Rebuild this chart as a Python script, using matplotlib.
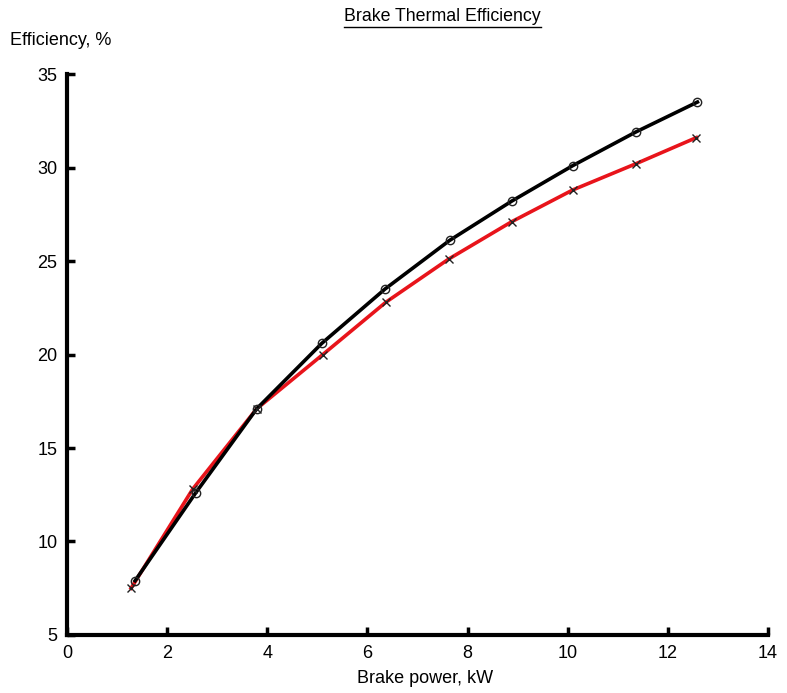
import matplotlib
matplotlib.use("Agg")
import matplotlib.pyplot as plt
from matplotlib.lines import Line2D

plt.rcParams["font.family"] = ["Liberation Sans", "DejaVu Sans"]

# brake power, kW
power_o = [1.36, 2.57, 3.79, 5.09, 6.35, 7.64, 8.88, 10.1, 11.36, 12.59]
power_x = [1.28, 2.51, 3.79, 5.11, 6.37, 7.62, 8.88, 10.1, 11.36, 12.57]
# brake thermal efficiency, %
eff_o = [7.9, 12.6, 17.1, 20.6, 23.5, 26.1, 28.2, 30.1, 31.9, 33.5]
eff_x = [7.5, 12.8, 17.1, 20.0, 22.8, 25.1, 27.1, 28.8, 30.2, 31.6]

fig = plt.figure(figsize=(7.87, 6.93), dpi=100)
ax = fig.add_axes([0.0851, 0.0837, 0.8908, 0.8095])

ax.plot(power_x, eff_x, color="#e8141b", lw=2.6, zorder=2)
ax.plot(power_x, eff_x, ls="none", marker="x", ms=6, mew=1.0, color="#222222", zorder=4)
ax.plot(power_o, eff_o, color="black", lw=2.6, zorder=3)
ax.plot(power_o, eff_o, ls="none", marker="o", ms=6, mew=1.0, mfc="none", mec="#222222", zorder=4)

ax.set_xlim(0, 14)
ax.set_ylim(5, 35)
ax.set_xticks(range(0, 15, 2))
ax.set_yticks(range(5, 36, 5))

for s in ["top", "right"]:
    ax.spines[s].set_visible(False)
for s in ["left", "bottom"]:
    ax.spines[s].set_linewidth(3)
ax.tick_params(direction="in", length=6, width=2.5, labelsize=13, pad=7)
ax.tick_params(axis="y", pad=7)

fig.text(0.5395, 0.009, "Brake power, kW", ha="center", va="bottom", fontsize=13)
fig.text(0.013, 0.942, "Efficiency, %", ha="left", va="center", fontsize=13)
title = fig.text(0.5625, 0.976, "Brake Thermal Efficiency", ha="center", va="center", fontsize=12.8)

# underline the title
fig.canvas.draw()
bb = title.get_window_extent().transformed(fig.transFigure.inverted())
fig.add_artist(Line2D([bb.x0, bb.x1], [bb.y0 - 0.002, bb.y0 - 0.002],
                      transform=fig.transFigure, color="black", lw=1))

fig.savefig("out.png", dpi=100)
